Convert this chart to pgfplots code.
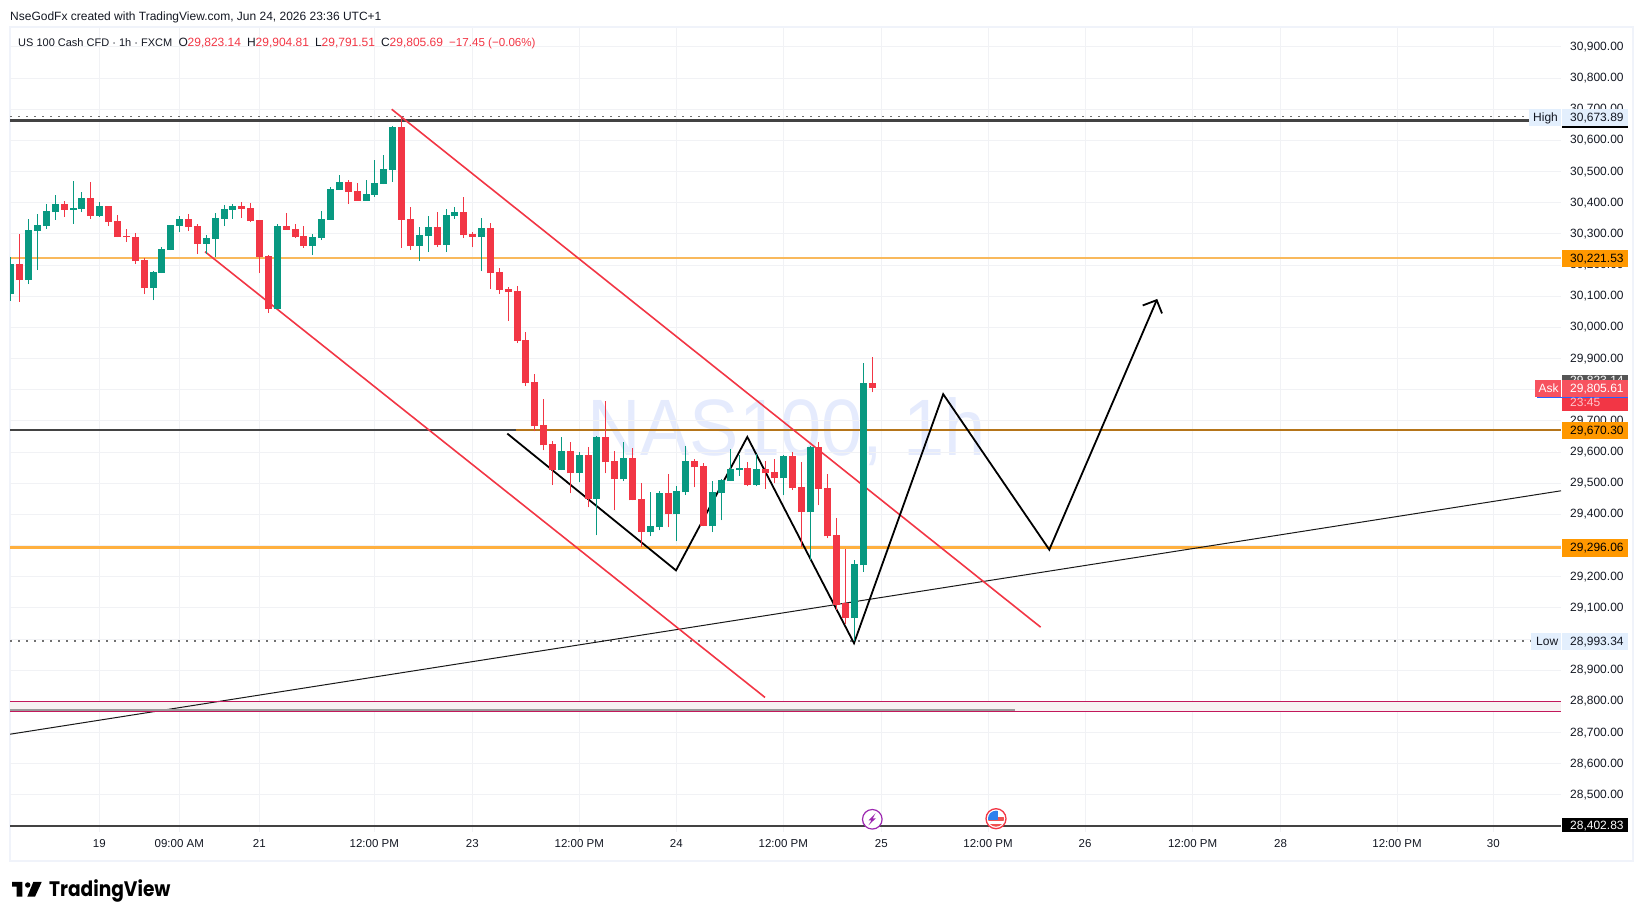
\documentclass[border=0pt]{standalone}
\usepackage{fontspec}
\usepackage{pgfplots}
\usepackage{pgfplotstable}
\pgfplotsset{compat=1.18}
\setmainfont{Liberation Sans}
\newfontfamily\logofont{Poppins}
\definecolor{cg}{HTML}{089981}
\definecolor{cr}{HTML}{F23645}
\definecolor{grd}{HTML}{F1F2F5}
\definecolor{frm}{HTML}{F0F3FA}
\definecolor{txt}{HTML}{131722}
\definecolor{org}{HTML}{FF9800}
\definecolor{lbl}{HTML}{E3EFFD}
\definecolor{ask}{HTML}{F7525F}
\definecolor{HTMLwm}{HTML}{E5EBFD}
\definecolor{HTMLband}{HTML}{F7F2F2}
\definecolor{HTMLo1}{HTML}{F9B95C}
\definecolor{HTMLo2}{HTML}{FFB03F}
\definecolor{HTMLdk}{HTML}{434343}
\definecolor{HTMLbr}{HTML}{B5751A}
\definecolor{HTMLdt}{HTML}{707070}
\definecolor{HTMLcr}{HTML}{C2185B}
\definecolor{HTMLgy}{HTML}{999999}
\definecolor{HTMLdg}{HTML}{555555}
\definecolor{HTMLbl}{HTML}{2962FF}
\definecolor{HTMLpk}{HTML}{FFC5CB}
\definecolor{HTMLpu}{HTML}{9C27B0}
\definecolor{HTMLfr}{HTML}{F05252}
\definecolor{HTMLfb}{HTML}{2F80ED}
\pgfplotstableread{
x low high bot top
10.4 30086 30225 30107 30203
28.3 30139 30348 30152 30313
37.3 30184 30364 30309 30329
46.3 30316 30396 30325 30374
55.3 30345 30425 30370 30396
73.3 30332 30470 30377 30384
81.3 30370 30435 30380 30415
99.3 30354 30402 30357 30390
153.3 30088 30181 30126 30178
161.3 30174 30258 30174 30252
170.3 30248 30329 30248 30329
179.3 30306 30357 30325 30348
206.3 30235 30296 30268 30287
215.3 30226 30367 30284 30351
224.3 30325 30393 30348 30380
232.3 30348 30396 30377 30390
277.3 30059 30332 30059 30325
312.3 30232 30300 30261 30290
321.3 30280 30374 30287 30348
330.3 30345 30451 30345 30444
339.3 30441 30489 30441 30467
366.3 30406 30473 30406 30428
374.3 30419 30537 30425 30463
383.3 30460 30553 30460 30508
392.3 30467 30647 30505 30643
419.3 30213 30322 30261 30296
428.3 30242 30357 30293 30322
446.3 30242 30380 30264 30361
454.3 30348 30386 30357 30370
481.3 30181 30351 30290 30319
561.3 29542 29648 29542 29603
579.3 29503 29600 29532 29590
596.3 29333 29651 29449 29648
623.3 29507 29632 29513 29580
650.3 29330 29471 29343 29362
659.3 29349 29474 29359 29468
676.3 29314 29490 29400 29474
685.3 29462 29619 29471 29571
712.3 29343 29507 29362 29471
721.3 29381 29513 29468 29510
730.3 29507 29609 29507 29545
739.3 29523 29590 29542 29548
756.3 29490 29593 29494 29545
783.3 29461 29590 29516 29587
810.3 29253 29619 29407 29616
854.3 28993 29253 29067 29240
863.3 29217 29885 29237 29821
}\greentable
\pgfplotstableread{
x low high bot top
19.3 30082 30300 30152 30203
64.3 30354 30406 30377 30396
90.3 30348 30467 30357 30415
108.3 30325 30390 30338 30390
117.3 30290 30361 30290 30341
126.3 30274 30316 30290 30293
135.3 30203 30303 30213 30290
144.3 30107 30223 30126 30216
188.3 30309 30364 30322 30348
197.3 30235 30332 30268 30325
241.3 30351 30402 30380 30390
250.3 30338 30399 30341 30383
259.3 30174 30345 30226 30345
268.3 30046 30232 30059 30229
286.3 30313 30367 30313 30325
295.3 30287 30332 30290 30316
303.3 30255 30325 30261 30293
348.3 30396 30473 30435 30467
357.3 30406 30463 30406 30438
401.3 30255 30673.89 30345 30643
410.3 30248 30386 30261 30348
437.3 30258 30370 30264 30322
463.3 30287 30418 30296 30370
472.3 30258 30306 30290 30300
490.3 30123 30335 30174 30319
499.3 30107 30190 30120 30178
508.3 30020 30129 30113 30123
517.3 29950 30133 29956 30117
525.3 29812 29985 29821 29959
534.3 29667 29850 29683 29824
543.3 29606 29770 29622 29686
552.3 29494 29635 29542 29625
570.3 29468 29632 29532 29603
588.3 29423 29616 29449 29590
605.3 29532 29763 29567 29648
614.3 29413 29603 29513 29571
632.3 29445 29612 29445 29580
641.3 29295 29500 29343 29449
668.3 29359 29529 29400 29468
694.3 29487 29577 29551 29571
703.3 29362 29564 29362 29555
747.3 29490 29567 29494 29548
765.3 29481 29571 29532 29545
774.3 29500 29577 29516 29535
792.3 29478 29600 29484 29587
801.3 29296 29567 29407 29487
818.3 29429 29632 29481 29616
827.3 29323 29529 29330 29484
836.3 29092 29388 29108 29333
845.3 29050 29288 29067 29115
872.3 29791.51 29904.81 29805.69 29823.14
}\redtable
\newcommand{\fs}[1]{\fontsize{#1}{#1}\selectfont}
\newcommand{\Bx}[5]{\fill[#5] (#1,920-#2) rectangle (#3,920-#4);}
\newcommand{\Tx}[5][txt]{\node[anchor=base west,inner sep=0pt,text=#1,font=\fs{#2}] at (#3,920-#4) {#5};}
\begin{document}
\begin{tikzpicture}[x=1pt,y=1pt]
\path[use as bounding box] (0,0) rectangle (1643,920);
% pane frame
\draw[frm,line width=2pt] (9.5,920-27) rectangle (1633,920-861.5);
% watermark
\node[anchor=base west,inner sep=0pt,text=HTMLwm,font=\fs{80},xscale=0.925] at (587,920-456) {NAS100, 1h};
\begin{axis}[
  at={(10pt,88pt)},anchor=south west,scale only axis,
  width=1551pt,height=804pt,
  xmin=10,xmax=1561,ymin=28381.3,ymax=30960.8,
  axis line style={draw=none},
  tick style={draw=none},
  major tick length=0pt,
  grid=major,
  grid style={grd,line width=1pt},
  xtick={99.3,179.3,259.3,374.3,472.3,579.3,676.3,783.3,881.3,988,1085,1192.6,1280.6,1397,1493.3},
  xticklabels={19,09:00 AM,21,12:00 PM,23,12:00 PM,24,12:00 PM,25,12:00 PM,26,12:00 PM,28,12:00 PM,30},
  xticklabel style={font=\fs{11.5},text=txt,inner sep=0pt,yshift=-7pt},
  ytick={28600,28700,28800,28900,29000,29100,29200,29300,29400,29600,29700,29800,29900,30100,30200,30300,30400,30600,30700,30800,30900},
  extra y ticks={28500,29500,30000,30500},
  extra y tick style={tick label style={font=\fs{13}}},
  yticklabel pos=right,
  scaled y ticks=false,
  yticklabel style={font=\fs{12},text=txt,anchor=west,inner sep=0pt,xshift=9pt,
    /pgf/number format/.cd,fixed,fixed zerofill,precision=2,1000 sep={,},assume math mode=true},
  clip=true,
]
% band
\addplot[draw=none,fill=HTMLband,forget plot] coordinates {(10,28797.7)(1561,28797.7)(1561,28766.9)(10,28766.9)} -- cycle;
% horizontal levels
\addplot[forget plot,no markers,line width=1.8pt,color=HTMLo1] coordinates {(10,30222)(1561,30222)};
\addplot[forget plot,no markers,line width=3pt,color=HTMLo2] coordinates {(10,29294)(1561,29294)};
\addplot[forget plot,no markers,line width=1.8pt,color=HTMLdk] coordinates {(10,29670.3)(516,29670.3)};
\addplot[forget plot,no markers,line width=1.8pt,color=HTMLbr] coordinates {(516,29670.3)(1561,29670.3)};
\addplot[forget plot,no markers,line width=2.4pt,color=HTMLdk] coordinates {(10,30664)(1561,30664)};
\addplot[forget plot,no markers,line width=2.4pt,color=HTMLdk] coordinates {(10,28400)(1561,28400)};
\addplot[forget plot,no markers,line width=1.8pt,color=HTMLdt,dash pattern=on 2pt off 6pt] coordinates {(10,30677)(1529,30677)};
\addplot[forget plot,no markers,line width=1.8pt,color=HTMLdt,dash pattern=on 2pt off 6pt] coordinates {(10,28993.34)(1531,28993.34)};
% trend line
\addplot[forget plot,no markers,line width=1pt,color=black!90] coordinates {(10,28695)(1561,29476)};
% band edges
\addplot[forget plot,no markers,line width=1pt,color=HTMLcr] coordinates {(10,28799)(1561,28799)};
\addplot[forget plot,no markers,line width=1pt,color=HTMLcr] coordinates {(10,28766.9)(1561,28766.9)};
\addplot[forget plot,no markers,line width=2.2pt,color=HTMLgy] coordinates {(10,28772)(1015,28772)};
% channel
\addplot[forget plot,no markers,line width=1.6pt,color=cr] coordinates {(391.7,30700)(1040.6,29038.5)};
\addplot[forget plot,no markers,line width=1.6pt,color=cr] coordinates {(205,30243)(765,28813)};
% zig-zag and arrow
\addplot[forget plot,no markers,line width=1.8pt,color=black,line join=miter] coordinates {(507.3,29659.5)(676,29220.6)(747.3,29648.8)(854,28987)(943.2,29786)(1049.3,29287)(1156.7,30087.7)};
\addplot[forget plot,no markers,line width=1.8pt,color=black,line join=miter] coordinates {(1142.7,30070.6)(1156.7,30087.7)(1162,30045)};
% candles
\addplot[forget plot,draw=none,no markers,error bars/.cd,y dir=plus,y explicit,error mark=none,error bar style={draw=cg,line width=1pt}] table[x=x,y=low,y error plus expr=\thisrow{high}-\thisrow{low}] {\greentable};
\addplot[forget plot,draw=none,no markers,error bars/.cd,y dir=plus,y explicit,error mark=none,error bar style={draw=cg,line width=7pt}] table[x=x,y=bot,y error plus expr=\thisrow{top}-\thisrow{bot}] {\greentable};
\addplot[forget plot,draw=none,no markers,error bars/.cd,y dir=plus,y explicit,error mark=none,error bar style={draw=cr,line width=1pt}] table[x=x,y=low,y error plus expr=\thisrow{high}-\thisrow{low}] {\redtable};
\addplot[forget plot,draw=none,no markers,error bars/.cd,y dir=plus,y explicit,error mark=none,error bar style={draw=cr,line width=7pt}] table[x=x,y=bot,y error plus expr=\thisrow{top}-\thisrow{bot}] {\redtable};
\end{axis}
% header
\Tx{12}{10}{20.3}{NseGodFx created with TradingView.com, Jun 24, 2026 23:36 UTC+1}
\Tx{11}{18}{47}{US 100 Cash CFD · 1h · FXCM}
\Tx{12}{178.5}{47}{O}\Tx[cr]{12}{187.5}{47}{29,823.14}
\Tx{12}{247}{47}{H}\Tx[cr]{12}{255.5}{47}{29,904.81}
\Tx{12}{315}{47}{L}\Tx[cr]{12}{321.5}{47}{29,791.51}
\Tx{12}{381}{47}{C}\Tx[cr]{12}{389.5}{47}{29,805.69}
\Tx[cr]{11.6}{449}{47}{−17.45 (−0.06\%)}
% price labels
\Bx{1562}{113}{1628}{128.5}{black}
\Bx{1529}{109}{1561}{126}{lbl}\Bx{1562}{109}{1628}{126}{lbl}
\Tx{12}{1533}{122}{High}\Tx{12}{1570}{122}{30,673.89}
\Bx{1562}{250}{1628}{267}{org}\Tx[black]{12}{1570}{262.5}{30,221.53}
\Bx{1562}{375}{1628}{392}{HTMLdg}\Tx[white]{12}{1570}{385}{29,823.14}
\Bx{1562}{380}{1628}{411}{cr}
\Bx{1562}{380}{1628}{397}{ask}
\Bx{1535}{380}{1561}{397}{ask}
\draw[HTMLbl,line width=0.8pt] (1537,920-397.3) -- (1628,920-397.3);
\Tx[white]{12}{1538.5}{393}{Ask}\Tx[white]{12}{1570}{393}{29,805.61}
\Tx[HTMLpk]{12}{1570}{406.5}{23:45}
\Bx{1562}{422}{1628}{438.7}{org}\Tx[black]{12}{1570}{434.5}{29,670.30}
\Bx{1562}{539}{1628}{556.7}{org}\Tx[black]{12}{1570}{551.5}{29,296.06}
\Bx{1531}{633}{1561}{650}{lbl}\Bx{1562}{633}{1628}{650}{lbl}
\Tx{12}{1536}{645.5}{Low}\Tx{12}{1570}{645.5}{28,993.34}
\Bx{1562}{818}{1628}{832}{black}\Tx[white]{12}{1570}{829.5}{28,402.83}
% event icons
\filldraw[fill=white,draw=HTMLpu,line width=1.2pt] (872.3,920-819.3) circle (9.8);
\fill[HTMLpu] (875.5,920-813.3) -- (868.5,920-820.3) -- (871.5,920-820.3) -- (868.5,920-825.3) -- (875.8,920-818.3) -- (872.8,920-818.3) -- cycle;
\filldraw[fill=white,draw=cr,line width=1.3pt] (996,920-818.7) circle (10);
\begin{scope}
\clip (996,920-818.7) circle (8);
\Bx{986}{810}{1006}{828}{white}
\Bx{986}{817}{1006}{821}{HTMLfr}
\Bx{986}{824}{1006}{828}{HTMLfr}
\Bx{986}{810}{998}{820}{HTMLfb}
\end{scope}
% logo
\fill[black] (12,920-882) -- (22.3,920-882) -- (22.3,920-896.7) -- (16.7,920-896.7) -- (16.7,920-886.7) -- (12,920-886.7) -- cycle;
\fill[black] (27.7,920-885) circle (2.7);
\fill[black] (33.3,920-882) -- (41.7,920-882) -- (35,920-896.7) -- (27.3,920-896.7) -- cycle;
\node[anchor=base west,inner sep=0pt,text=black,font=\logofont\bfseries\fs{21},xscale=0.885] at (49,920-896.7) {TradingView};
\end{tikzpicture}
\end{document}
